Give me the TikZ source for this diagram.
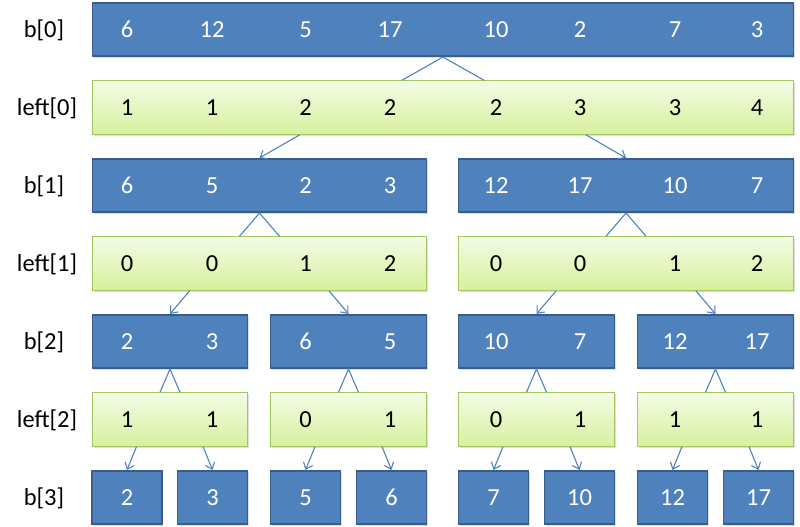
\documentclass[tikz,border=0pt]{standalone}
\usepackage{fontspec}
\setmainfont{Carlito}
\usetikzlibrary{arrows.meta,calc,shadows}

\definecolor{boxblue}{RGB}{79,129,189}
\definecolor{boxblueline}{RGB}{56,93,138}
\definecolor{lefttop}{RGB}{243,251,229}
\definecolor{leftbottom}{RGB}{214,241,158}
\definecolor{leftline}{RGB}{163,197,98}

\begin{document}
\begin{tikzpicture}[x=1pt,y=-1pt,>={Straight Barb[length=6pt,width=10pt]}]
    \tikzstyle{box}=[rectangle,minimum height=53.5pt,inner sep=0pt,
        drop shadow={shadow xshift=1.2pt,shadow yshift=-1.5pt,opacity=0.25}]
    \tikzstyle{b box}=[box,draw=boxblueline,line width=1.6pt,fill=boxblue,text=white]
    \tikzstyle{left box}=[box,draw=leftline,line width=1pt,top color=lefttop,bottom color=leftbottom]
    \tikzstyle{txt}=[inner sep=0pt,text height=15.5pt,text depth=0pt,font=\fontsize{24.5}{29}\selectfont]
    \tikzstyle{link}=[draw=boxblue,line width=1.1pt]
    \tikzstyle{arrow}=[link,->]
    \def\cols{{127,212,305.5,390,496,580,675,757}}

    \useasboundingbox (0,0) rectangle (800,527);

    % Draw the row labels
    \foreach \r/\t/\x in {0/b[0]/44,1/left[0]/47,2/b[1]/44,3/left[1]/47,4/b[2]/44,5/left[2]/47,6/b[3]/44}
        \node[txt] (lab\r) at (\x,29.5+78*\r) {\t};

    % Draw the level 0 boxes
    \node[b box,minimum width=701pt] (B0) at (443,29.5) {};
    \node[left box,minimum width=701pt] (L0) at (443,107.5) {};

    % Draw the level 1 boxes
    \foreach \name/\x/\w in {1/259.5/334,2/626/335} {
        \node[b box,minimum width=\w pt] (B1-\name) at (\x,185.5) {};
        \node[left box,minimum width=\w pt] (L1-\name) at (\x,263.5) {};
    }

    % Draw the level 2 boxes
    \foreach \name/\x/\w in {1/170/155,2/348.5/156,3/536.5/156,4/715.5/156} {
        \node[b box,minimum width=\w pt] (B2-\name) at (\x,341.5) {};
        \node[left box,minimum width=\w pt] (L2-\name) at (\x,419.5) {};
    }

    % Draw the level 3 boxes, each with its value
    \foreach \name/\x/\v in {1/127/2,2/212.5/3,3/305.5/5,4/391.5/6,5/493.5/7,6/579.5/10,7/672.5/12,8/758.5/17}
        \node[b box,txt,minimum width=70pt,minimum height=53.5pt] (B3-\name) at (\x,497.5) {\v};

    % Write the values in the wide boxes
    \foreach \r/\vals/\tc in {0/{6,12,5,17,10,2,7,3}/white,1/{1,1,2,2,2,3,3,4}/black,
                              2/{6,5,2,3,12,17,10,7}/white,3/{0,0,1,2,0,0,1,2}/black,
                              4/{2,3,6,5,10,7,12,17}/white,5/{1,1,0,1,0,1,1,1}/black}
        \foreach \v [count=\c] in \vals {
            \pgfmathsetmacro\xc{\cols[\c-1]}
            \node[txt,text=\tc] (n\r-\c) at (\xc,29.5+78*\r) {\v};
        }

    % Connect every b box with the left box below it
    \draw[link] ($(L0.north)+(-41,0)$) -- (B0.south) -- ($(L0.north)+(41,0)$);
    \foreach \i in {1,2}
        \draw[link] ($(L1-\i.north)+(-20,0)$) -- (B1-\i.south) -- ($(L1-\i.north)+(20,0)$);
    \foreach \i in {1,...,4}
        \draw[link] ($(L2-\i.north)+(-10,0)$) -- (B2-\i.south) -- ($(L2-\i.north)+(10,0)$);

    % Connect every left box with its two children
    \foreach \dest in {1,2}
        \draw[arrow] ($(L0.south)!0.78!(L0.south -| B1-\dest.north)$) -- (B1-\dest.north);
    \foreach \source in {1,2}
        \foreach \k in {1,0} {
            \pgfmathtruncatemacro\dest{2*\source-\k}
            \draw[arrow] ($(L1-\source.south)!0.78!(L1-\source.south -| B2-\dest.north)$) -- (B2-\dest.north);
        }
    \foreach \source in {1,...,4}
        \foreach \k in {1,0} {
            \pgfmathtruncatemacro\dest{2*\source-\k}
            \draw[arrow] ($(L2-\source.south)!0.78!(L2-\source.south -| B3-\dest.north)$) -- (B3-\dest.north);
        }

\end{tikzpicture}
\end{document}
